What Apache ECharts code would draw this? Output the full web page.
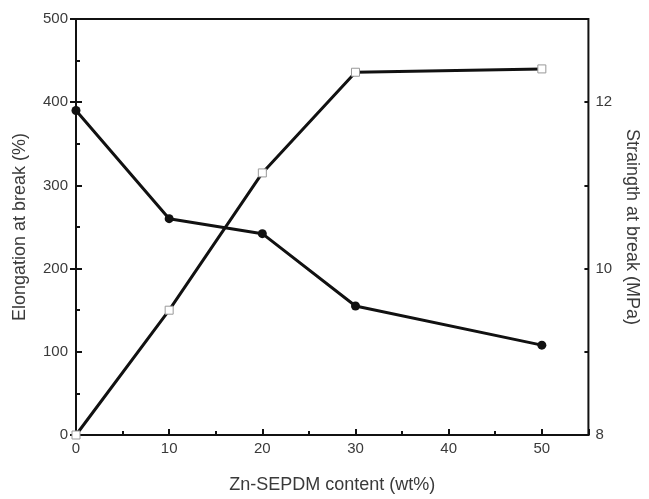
<!DOCTYPE html>
<html>
<head>
<meta charset="utf-8">
<script src="https://cdn.jsdelivr.net/npm/echarts@6/dist/echarts.min.js"></script>
<style>
html,body{margin:0;padding:0;background:#fff;}
#chart{width:649px;height:499px;}
</style>
</head>
<body>
<div id="chart"></div>
<script>
// Data
var contents = [0, 10, 20, 30, 50];               // Zn-SEPDM content (wt%)
var elongation = [390, 260, 242, 155, 108];        // Elongation at break (%) - filled circles, left axis
var strength = [8.0, 9.5, 11.15, 12.36, 12.4];     // Strength at break (MPa) - open squares, right axis

var xTitle = 'Zn-SEPDM content (wt%)';
var leftTitle = 'Elongation at break (%)';
var rightTitle = 'Straingth at break (MPa)';

function pairs(xs, ys) { return xs.map(function (x, i) { return [x, ys[i]]; }); }

var FONT = 'Liberation Sans, Arial, Helvetica, sans-serif';
var INK = '#111';
var TXT = '#3a3a3a';

var chart = echarts.init(document.getElementById('chart'), null, {renderer: 'canvas'});
chart.setOption({
  animation: false,
  backgroundColor: '#fff',
  textStyle: {fontFamily: FONT},
  grid: {left: 76, right: 56, top: 19, bottom: 63, show: true, borderColor: INK, borderWidth: 2, backgroundColor: 'transparent'},
  xAxis: [{
    type: 'value', min: 0, max: 55, interval: 10,
    name: xTitle, nameLocation: 'middle', nameGap: 41,
    nameTextStyle: {fontSize: 18, color: TXT, fontFamily: FONT},
    axisLine: {lineStyle: {color: INK, width: 2}},
    axisTick: {inside: true, length: 6, lineStyle: {color: INK, width: 2}},
    axisLabel: {fontSize: 15, color: TXT, margin: 6, fontFamily: FONT,
      formatter: function (v) { return v === 55 ? '' : String(v); }},
    splitLine: {show: false}
  }, {
    type: 'value', min: 0, max: 55, interval: 5, position: 'bottom',
    axisLine: {show: false},
    axisTick: {inside: true, length: 4, lineStyle: {color: INK, width: 2}},
    axisLabel: {show: false},
    splitLine: {show: false}
  }],
  yAxis: [{
    type: 'value', min: 0, max: 500, interval: 100, position: 'left',
    name: leftTitle, nameLocation: 'middle', nameGap: 47,
    nameTextStyle: {fontSize: 18, color: TXT, fontFamily: FONT},
    axisLine: {show: true, lineStyle: {color: INK, width: 2}},
    axisTick: {inside: true, length: 6, lineStyle: {color: INK, width: 2}},
    minorTick: {show: true, splitNumber: 2, length: 4, lineStyle: {color: INK, width: 2}},
    axisLabel: {fontSize: 15, color: TXT, margin: 8, fontFamily: FONT},
    splitLine: {show: false}
  }, {
    type: 'value', min: 8, max: 13, interval: 2, position: 'right',
    name: rightTitle, nameLocation: 'middle', nameGap: 30, nameRotate: -90,
    nameTextStyle: {fontSize: 18, color: TXT, fontFamily: FONT},
    axisLine: {show: true, lineStyle: {color: INK, width: 2}},
    axisTick: {inside: true, length: 6, lineStyle: {color: INK, width: 2}},
    axisLabel: {fontSize: 15, color: TXT, margin: 7, fontFamily: FONT,
      formatter: function (v) { return v === 13 ? '' : String(v); }},
    splitLine: {show: false}
  }, {
    type: 'value', min: 8, max: 13, interval: 1, position: 'right',
    axisLine: {show: false},
    axisTick: {inside: true, length: 4, lineStyle: {color: INK, width: 2}},
    axisLabel: {show: false},
    splitLine: {show: false}
  }],
  series: [{
    type: 'line', xAxisIndex: 0, yAxisIndex: 0,
    data: pairs(contents, elongation),
    symbol: 'circle', symbolSize: 9,
    lineStyle: {color: INK, width: 3},
    itemStyle: {color: INK, borderWidth: 0}
  }, {
    type: 'line', xAxisIndex: 0, yAxisIndex: 1,
    data: pairs(contents, strength),
    symbol: 'rect', symbolSize: 8,
    lineStyle: {color: INK, width: 3},
    itemStyle: {color: '#fff', borderColor: '#999', borderWidth: 1}
  }]
});
</script>
</body>
</html>
